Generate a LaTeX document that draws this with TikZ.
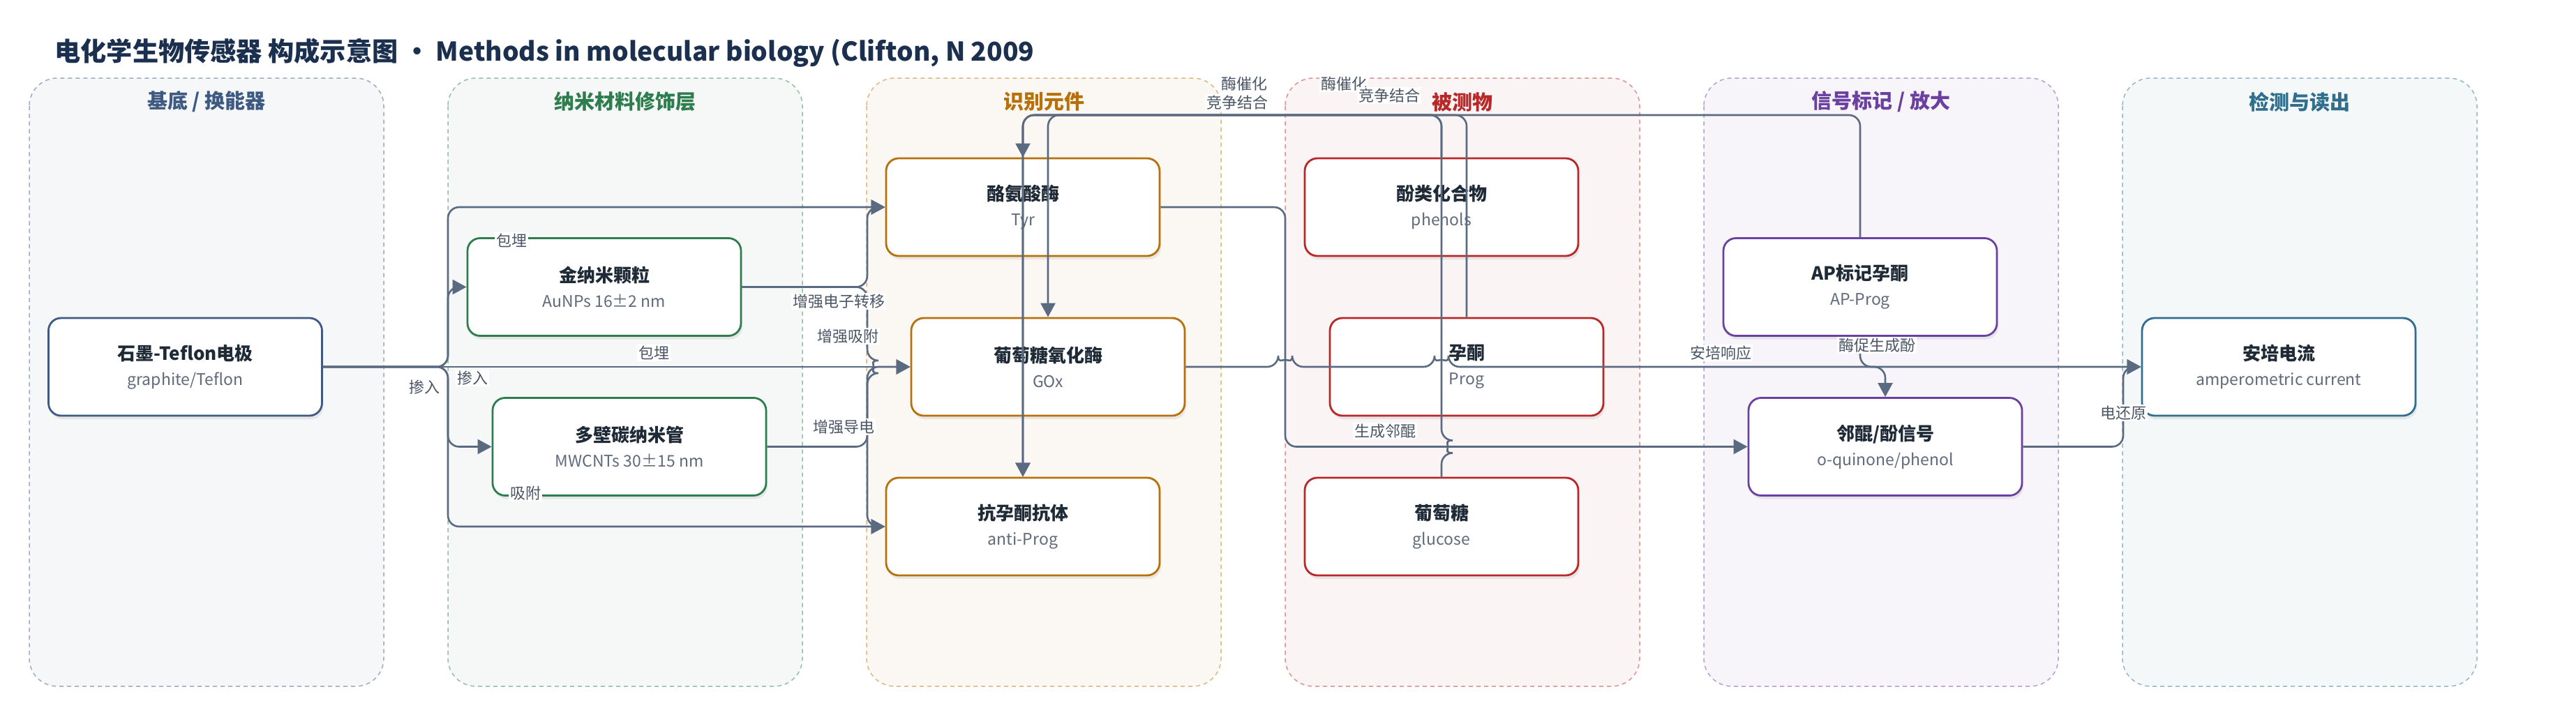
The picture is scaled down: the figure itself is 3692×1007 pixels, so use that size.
\documentclass[tikz,border=0pt]{standalone}
\usepackage{fontspec}
\setmainfont{Noto Sans CJK SC}
\usepackage{xcolor}
\usetikzlibrary{arrows.meta,positioning,shadows}

\definecolor{inkdark}{HTML}{1F2A37}
\definecolor{inksub}{HTML}{5F6A7B}
\definecolor{inktag}{HTML}{4A5566}
\definecolor{titleink}{HTML}{1B2F4E}
\definecolor{edgeink}{HTML}{5A6A80}
\definecolor{laneBase}{HTML}{3E5A82}
\definecolor{laneNano}{HTML}{2E7D4E}
\definecolor{laneRec}{HTML}{B8700A}
\definecolor{laneAna}{HTML}{B82828}
\definecolor{laneSig}{HTML}{6A40A0}
\definecolor{laneDet}{HTML}{2F6E8C}

\begin{document}
\begin{tikzpicture}[x=0.5pt, y=-0.5pt]
        \tikzset{lane/.style={draw=#1!50, fill=#1!5, dash pattern=on 3pt off 2.5pt, line width=0.75pt, rounded corners=20pt}}
        \tikzset{lanetitle/.style={text=#1, font=\fontsize{14.5pt}{17pt}\selectfont\bfseries}}
        \tikzset{part/.style={draw=#1, fill=white, line width=1.4pt, rounded corners=9pt, minimum width=196pt, minimum height=70pt, align=center, text=inkdark, font=\fontsize{13pt}{16pt}\selectfont, drop shadow={shadow xshift=1pt, shadow yshift=-2.5pt, opacity=0.15}}}
        \tikzset{flow/.style={draw=edgeink, line width=1.3pt, rounded corners=8pt, -{Triangle[length=10pt, width=10.5pt]}}}
        \tikzset{tag/.style={fill=white, text=inktag, font=\fontsize{11pt}{13pt}\selectfont, inner sep=1pt}}

        \useasboundingbox (0,0) rectangle (3692,1007);

        % Title
        \node[anchor=west, inner sep=0pt, text=titleink, font=\fontsize{18.6pt}{22pt}\selectfont\bfseries] (title) at (78,76) {电化学生物传感器 构成示意图 · Methods in molecular biology (Clifton, N 2009};

        % Lanes
        \foreach \i/\c/\t in {0/laneBase/{基底 / 换能器}, 1/laneNano/{纳米材料修饰层}, 2/laneRec/{识别元件}, 3/laneAna/{被测物}, 4/laneSig/{信号标记 / 放大}, 5/laneDet/{检测与读出}} {
            \path[lane=\c] (42+600*\i,112) rectangle ++(508,872);
            \node[lanetitle=\c] (lane\i) at (296+600*\i,146) {\t};
        }

        % Parts
        \node[part=laneBase] (elec) at (265.5,526) {\textbf{石墨-Teflon电极}\\[2pt]{\fontsize{11.5pt}{14pt}\selectfont\color{inksub}graphite/Teflon}};
        \node[part=laneNano] (aunp) at (866,411.5) {\textbf{金纳米颗粒}\\[2pt]{\fontsize{11.5pt}{14pt}\selectfont\color{inksub}AuNPs 16±2 nm}};
        \node[part=laneNano] (mwcnt) at (902,640.5) {\textbf{多壁碳纳米管}\\[2pt]{\fontsize{11.5pt}{14pt}\selectfont\color{inksub}MWCNTs 30±15 nm}};
        \node[part=laneRec] (tyr) at (1466,297) {\textbf{酪氨酸酶}\\[2pt]{\fontsize{11.5pt}{14pt}\selectfont\color{inksub}Tyr}};
        \node[part=laneRec] (gox) at (1502,526) {\textbf{葡萄糖氧化酶}\\[2pt]{\fontsize{11.5pt}{14pt}\selectfont\color{inksub}GOx}};
        \node[part=laneRec] (anti) at (1466,755) {\textbf{抗孕酮抗体}\\[2pt]{\fontsize{11.5pt}{14pt}\selectfont\color{inksub}anti-Prog}};
        \node[part=laneAna] (phen) at (2066,297) {\textbf{酚类化合物}\\[2pt]{\fontsize{11.5pt}{14pt}\selectfont\color{inksub}phenols}};
        \node[part=laneAna] (prog) at (2102,526) {\textbf{孕酮}\\[2pt]{\fontsize{11.5pt}{14pt}\selectfont\color{inksub}Prog}};
        \node[part=laneAna] (gluc) at (2066,755) {\textbf{葡萄糖}\\[2pt]{\fontsize{11.5pt}{14pt}\selectfont\color{inksub}glucose}};
        \node[part=laneSig] (approg) at (2666,411.5) {\textbf{AP标记孕酮}\\[2pt]{\fontsize{11.5pt}{14pt}\selectfont\color{inksub}AP-Prog}};
        \node[part=laneSig] (quin) at (2702,640.5) {\textbf{邻醌/酚信号}\\[2pt]{\fontsize{11.5pt}{14pt}\selectfont\color{inksub}o-quinone/phenol}};
        \node[part=laneDet] (curr) at (3266,526) {\textbf{安培电流}\\[2pt]{\fontsize{11.5pt}{14pt}\selectfont\color{inksub}amperometric current}};

        % Bends
        \coordinate (busE) at (642,526);
        \coordinate (busA) at (1243,411.5);
        \coordinate (busM) at (1243,640.5);
        \coordinate (busT) at (1842,640.5);
        \coordinate (busQ) at (3043,640.5);
        \coordinate (topBus) at (0,165);

        % Electrode links
        \draw[flow] (elec.east) -- (busE) |- (aunp.west);
        \draw[flow] (elec.east) -- (busE) |- (mwcnt.west);
        \draw[flow] (elec.east) -- (busE) |- (tyr.west);
        \draw[flow] (elec.east) -- (gox.west);
        \draw[flow] (elec.east) -- (busE) |- (anti.west);

        % Nanomaterial links
        \draw[flow] (aunp.east) -- (busA) |- (tyr.west);
        \draw[flow] (aunp.east) -- (busA) -- (1243,517) arc[start angle=-90, end angle=90, radius=9] |- (anti.west);
        \draw[flow] (mwcnt.east) -- (busM) |- (gox.west);

        % Analyte links
        \draw[flow] (phen.north) -- (phen.north |- topBus) -| (tyr.north);
        \draw[flow] (prog.north) -- (prog.north |- topBus) -| (anti.north);
        \draw[flow] (approg.north) -- (approg.north |- topBus) -| (anti.north);
        \draw[flow] (tyr.east) -| (busT) -- (quin.west);
        \draw[flow] (gluc.north) -- (2066,649.5) arc[start angle=90, end angle=-90, radius=9] -- (gluc.north |- topBus) -| (gox.north);

        % Signal links
        \draw[flow] (gox.east) -- (1832,526) arc[start angle=180, end angle=360, radius=10] -- (2056,526) arc[start angle=180, end angle=360, radius=10] -- (curr.west);
        \draw[flow] (approg.south) -- (approg.south |- gox.east) -| (quin.north);
        \draw[flow] (quin.east) -- (busQ) |- (curr.west);

        % Link labels
        \node[tag] (tDopeA) at (608,555) {掺入};
        \node[tag] (tDopeB) at (677,542) {掺入};
        \node[tag] (tEmbA) at (733,345) {包埋};
        \node[tag] (tEmbB) at (937,506) {包埋};
        \node[tag] (tAds) at (753,707) {吸附};
        \node[tag] (tElec) at (1202,432) {增强电子转移};
        \node[tag] (tAdsUp) at (1215,482) {增强吸附};
        \node[tag] (tCond) at (1209,612) {增强导电};
        \node[tag] (tCatA) at (1783,120) {酶催化};
        \node[tag] (tCompA) at (1773,147) {竞争结合};
        \node[tag] (tCatB) at (1926,120) {酶催化};
        \node[tag] (tCompB) at (1991,137) {竞争结合};
        \node[tag] (tQuin) at (1985,618) {生成邻醌};
        \node[tag] (tAmp) at (2466,506) {安培响应};
        \node[tag] (tPhen) at (2690,495) {酶促生成酚};
        \node[tag] (tRed) at (3043,592) {电还原};
    \end{tikzpicture}
\end{document}
